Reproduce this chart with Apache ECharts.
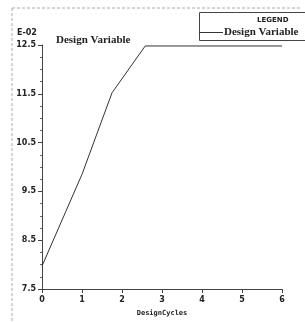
<!DOCTYPE html>
<html>
<head>
<meta charset="utf-8">
<script src="https://cdn.jsdelivr.net/npm/echarts@6/dist/echarts.min.js"></script>
<style>
  html, body { margin: 0; padding: 0; background: #fff; }
  #chart { width: 305px; height: 322px; }
</style>
</head>
<body>
<div id="chart"></div>
<script>
'use strict'
// design variable history, values in units of E-02
let cycles = [0, 1, 1.75, 2.58, 6];
let designVar = [7.97, 9.85, 11.52, 12.48, 12.48];
let xTicks = [0, 1, 2, 3, 4, 5, 6];
let yTicks = [7.5, 8.5, 9.5, 10.5, 11.5, 12.5];

let labelFont = { color: '#222', fontFamily: 'DejaVu Sans', fontSize: 8, fontWeight: 'bold' };

let option = {
  animation: false,
  title: {
    text: 'Design Variable',
    left: 51,
    top: 30,
    textStyle: { fontFamily: 'Liberation Serif', fontSize: 11, fontWeight: 'bold', color: '#222' }
  },
  legend: {
    top: 27,
    left: 199,
    padding: 0,
    itemGap: 0,
    itemWidth: 24,
    itemHeight: 1,
    icon: 'rect',
    textStyle: { fontFamily: 'Liberation Serif', fontSize: 11, fontWeight: 'bold', color: '#222', padding: [0, 0, 0, -4] },
    data: ['Design Variable']
  },
  grid: { left: 42, right: 23, top: 45, bottom: 29 },
  xAxis: {
    type: 'value',
    min: xTicks[0],
    max: xTicks[xTicks.length - 1],
    interval: 1,
    name: 'DesignCycles',
    nameLocation: 'middle',
    nameGap: 21,
    nameTextStyle: { fontFamily: 'DejaVu Sans Mono', fontSize: 7, fontWeight: 'bold', color: '#222' },
    axisLine: { lineStyle: { color: '#444', width: 1 } },
    axisTick: { length: 4, lineStyle: { color: '#444' } },
    axisLabel: Object.assign({ margin: 7 }, labelFont),
    splitLine: { show: false }
  },
  yAxis: {
    type: 'value',
    min: yTicks[0],
    max: yTicks[yTicks.length - 1],
    interval: 1,
    axisLine: { show: true, lineStyle: { color: '#444', width: 1 } },
    axisTick: { show: true, length: 4, lineStyle: { color: '#444' } },
    minorTick: { show: true, splitNumber: 4, length: 2, lineStyle: { color: '#666' } },
    axisLabel: Object.assign({ margin: 6, formatter: (v) => v.toFixed(1) }, labelFont),
    splitLine: { show: false }
  },
  graphic: [
    { type: 'line', shape: { x1: 12, y1: 8, x2: 300, y2: 8 }, style: { stroke: '#aaa', lineDash: [3, 2], lineWidth: 1 } },
    { type: 'line', shape: { x1: 12, y1: 8, x2: 12, y2: 322 }, style: { stroke: '#aaa', lineDash: [3, 2], lineWidth: 1 } },
    { type: 'rect', shape: { x: 199.5, y: 12.5, width: 110, height: 28 }, style: { fill: '#fff', stroke: '#444', lineWidth: 1 }, z: -1 },
    { type: 'text', left: 257, top: 17, style: { text: 'LEGEND', font: 'bold 7px "DejaVu Sans"', fill: '#222' } },
    { type: 'text', left: 17, top: 29, style: { text: 'E-02', font: 'bold 8px "DejaVu Sans"', fill: '#222' } }
  ],
  series: [{
    name: 'Design Variable',
    type: 'line',
    showSymbol: false,
    data: cycles.map((c, i) => [c, designVar[i]]),
    lineStyle: { color: '#333', width: 1 },
    itemStyle: { color: '#333' }
  }]
};

let myChart = echarts.init(document.getElementById('chart'));
myChart.setOption(option);
</script>
</body>
</html>
